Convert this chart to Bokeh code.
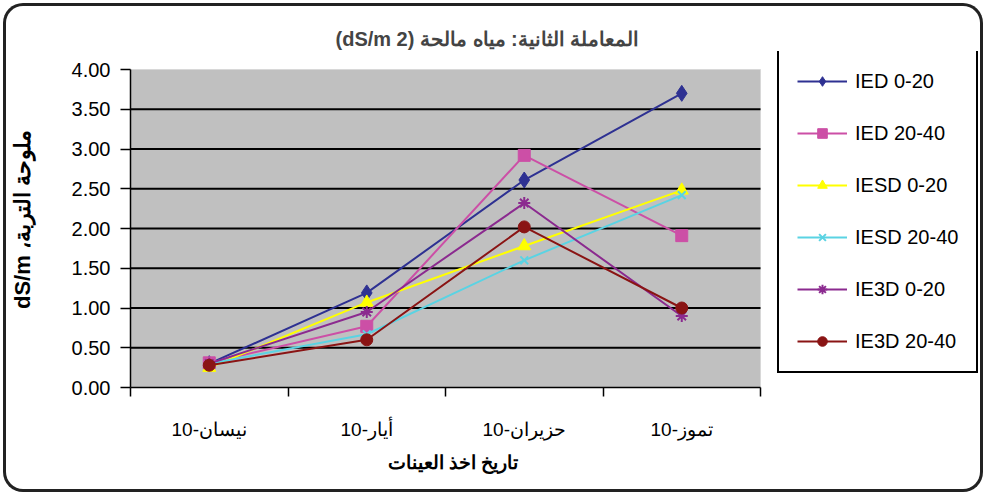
from bokeh.plotting import figure
from bokeh.models import FixedTicker, Legend, LegendItem, NumeralTickFormatter, Range1d, Title
from bokeh.embed import file_html
from bokeh.resources import INLINE

# ---------------- data ----------------
months = ["10-نيسان", "10-أيار", "10-حزيران", "10-تموز"]
y_ticks = [0.0, 0.5, 1.0, 1.5, 2.0, 2.5, 3.0, 3.5, 4.0]

series_names = ["IED 0-20", "IED 20-40", "IESD 0-20", "IESD 20-40", "IE3D 0-20", "IE3D 20-40"]
ied_0_20 = [0.30, 1.19, 2.61, 3.70]
ied_20_40 = [0.31, 0.77, 2.92, 1.91]
iesd_0_20 = [0.25, 1.07, 1.78, 2.48]
iesd_20_40 = [0.30, 0.67, 1.60, 2.42]
ie3d_0_20 = [0.30, 0.95, 2.32, 0.90]
ie3d_20_40 = [0.28, 0.60, 2.02, 1.00]
series_values = [ied_0_20, ied_20_40, iesd_0_20, iesd_20_40, ie3d_0_20, ie3d_20_40]

title_text = "(dS/m 2) المعاملة الثانية: مياه مالحة"
y_label = "dS/m ملوحة التربة،\u200f"
x_label = "تاريخ اخذ العينات"

# ---------------- styles ----------------
colors = ["#2E3192", "#CC4FA6", "#FFFF00", "#5AD3E3", "#8B2A8F", "#8A1414"]
markers = ["diamond", "square", "triangle", "x", "asterisk", "circle"]
sizes = [16, 12, 13, 11, 12, 12]
FONT = "Liberation Sans"

n = len(months)
x = [i + 0.5 for i in range(n)]
y_lo, y_hi = y_ticks[0], y_ticks[-1]

# layout: the plot frame is widened to the right so the legend can live inside it;
# the grey plot area itself covers only x in [0, n]
PX_X = 157.5   # pixels per category
PX_Y = 79.5    # pixels per unit of y
W, H = 974, 483
ML, MR, MT, MB = 124, 2, 45, 102
x_end = (W - ML - MR) / PX_X
y_end = (H - MT - MB) / PX_Y

p = figure(width=W, height=H,
           x_range=Range1d(0, x_end),
           y_range=Range1d(y_lo, y_end),
           output_backend="svg", toolbar_location=None,
           min_border_left=ML, min_border_right=MR,
           min_border_top=MT, min_border_bottom=MB)

p.styles = {"margin": "6px", "border-radius": "17px",
            "box-shadow": "0 0 0 3px #222222"}

p.background_fill_color = "white"
p.border_fill_color = "white"
p.border_fill_alpha = 0
p.background_fill_alpha = 0
p.outline_line_color = None
p.xgrid.visible = False
p.ygrid.visible = False

# grey plot area and gridlines
p.quad(left=0, right=n, bottom=y_lo, top=y_hi,
       fill_color="#C0C0C0", line_color="#D8D8D8", line_width=1)
grid_y = y_ticks[1:-1]
p.segment(x0=[0] * len(grid_y), x1=[n] * len(grid_y), y0=grid_y, y1=grid_y,
          line_color="black", line_width=2)

# title
p.title.text = title_text
p.title.align = "left"
p.title.offset = 205
p.title.text_font = FONT
p.title.text_font_size = "20px"
p.title.text_font_style = "bold"
p.title.standoff = 4

# y axis
yax = p.yaxis[0]
yax.bounds = (y_lo, y_hi)
yax.ticker = FixedTicker(ticks=y_ticks)
yax.formatter = NumeralTickFormatter(format="0.00")
yax.major_tick_out = 10
yax.major_tick_in = 0
yax.minor_tick_out = 0
yax.minor_tick_in = 0
yax.major_tick_line_color = "black"
yax.major_tick_line_width = 1.5
yax.axis_line_color = "black"
yax.axis_line_width = 1.5
yax.major_label_standoff = 10
yax.major_label_text_font = FONT
yax.major_label_text_font_size = "20px"
yax.major_label_text_color = "black"
yax.axis_label = y_label
yax.axis_label_text_font = FONT
yax.axis_label_text_font_size = "22px"
yax.axis_label_text_font_style = "bold"
yax.axis_label_text_color = "black"
yax.axis_label_standoff = 34

# x axis
xax = p.xaxis[0]
xax.bounds = (0, n)
xax.ticker = FixedTicker(ticks=x, minor_ticks=list(range(n + 1)))
xax.major_label_overrides = {xi: m for xi, m in zip(x, months)}
xax.major_tick_out = 0
xax.major_tick_in = 0
xax.minor_tick_out = 9
xax.minor_tick_in = 0
xax.minor_tick_line_color = "black"
xax.minor_tick_line_width = 1.5
xax.axis_line_color = "black"
xax.axis_line_width = 1.5
xax.major_label_standoff = 22
xax.major_label_text_font = FONT
xax.major_label_text_font_size = "19px"
xax.major_label_text_color = "black"

# x-axis title, centred under the grey plot area (not the widened frame)
x_title = Title(text=x_label, align="left", offset=257, standoff=14,
                text_font=FONT, text_font_size="19px", text_font_style="bold",
                text_color="black")
p.add_layout(x_title, "below")

# series
items = []
for name, vals, c, m, s in zip(series_names, series_values, colors, markers, sizes):
    rl = p.line(x, vals, line_color=c, line_width=2)
    if m in ("x", "asterisk"):
        rm = p.scatter(x, vals, marker=m, size=s, line_color=c, line_width=2, fill_color=None)
    else:
        rm = p.scatter(x, vals, marker=m, size=s, line_color=c, fill_color=c)
    items.append(LegendItem(label=name, renderers=[rl, rm]))

legend = Legend(items=items, location=(647, 14))
legend.border_line_color = "black"
legend.border_line_width = 2
legend.border_line_alpha = 1
legend.background_fill_color = "white"
legend.background_fill_alpha = 1
legend.label_text_font = FONT
legend.label_text_font_size = "20px"
legend.label_text_color = "black"
legend.glyph_width = 50
legend.glyph_height = 24
legend.label_height = 24
legend.spacing = 28
legend.padding = 18
legend.label_standoff = 8
legend.margin = 0
p.add_layout(legend)

open("out.html", "w").write(file_html(p, INLINE))
